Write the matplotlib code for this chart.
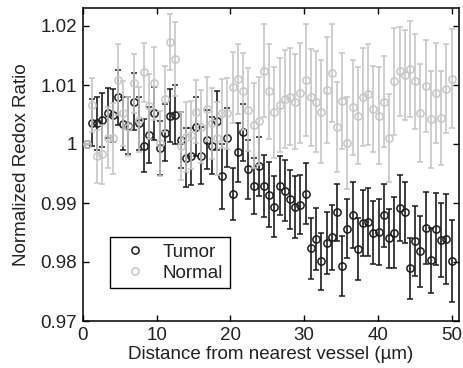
import matplotlib
matplotlib.use("Agg")
import matplotlib.pyplot as plt
from matplotlib.lines import Line2D

plt.rcParams['font.family'] = ['Liberation Sans', 'DejaVu Sans']

distance = [0.50, 1.21, 1.91, 2.62, 3.33, 4.04, 4.74, 5.45, 6.16, 6.86,
            7.57, 8.28, 8.99, 9.69, 10.40, 11.11, 11.81, 12.52, 13.23, 13.94,
            14.64, 15.35, 16.06, 16.76, 17.47, 18.18, 18.89, 19.59, 20.30, 21.01,
            21.71, 22.42, 23.13, 23.84, 24.54, 25.25, 25.96, 26.66, 27.37, 28.08,
            28.79, 29.49, 30.20, 30.91, 31.61, 32.32, 33.03, 33.74, 34.44, 35.15,
            35.86, 36.56, 37.27, 37.98, 38.69, 39.39, 40.10, 40.81, 41.51, 42.22,
            42.93, 43.64, 44.34, 45.05, 45.76, 46.46, 47.17, 47.88, 48.59, 49.29,
            50.00]

tumor = [1.0000, 1.0036, 1.0035, 1.0041, 1.0053, 1.0049, 1.0079, 1.0034, 1.0031, 1.0072,
         1.0035, 0.9997, 1.0015, 1.0052, 0.9993, 1.0019, 1.0048, 1.0050, 1.0007, 0.9977,
         0.9979, 1.0029, 0.9980, 1.0007, 0.9997, 1.0039, 0.9945, 1.0011, 0.9916, 0.9986,
         1.0020, 0.9957, 0.9929, 0.9962, 0.9929, 0.9914, 0.9894, 0.9929, 0.9921, 0.9906,
         0.9893, 0.9897, 0.9916, 0.9823, 0.9839, 0.9801, 0.9832, 0.9842, 0.9884, 0.9793,
         0.9856, 0.9879, 0.9822, 0.9866, 0.9868, 0.9850, 0.9851, 0.9879, 0.9840, 0.9850,
         0.9891, 0.9884, 0.9789, 0.9836, 0.9818, 0.9857, 0.9803, 0.9856, 0.9837, 0.9839,
         0.9802]

tumor_err = [0.0, 0.0040, 0.0045, 0.0046, 0.0042, 0.0045, 0.0047, 0.0045, 0.0048, 0.0049,
             0.0045, 0.0045, 0.0048, 0.0045, 0.0046, 0.0048, 0.0045, 0.0050, 0.0048, 0.0050,
             0.0048, 0.0050, 0.0048, 0.0050, 0.0048, 0.0050, 0.0055, 0.0050, 0.0044, 0.0050,
             0.0048, 0.0050, 0.0048, 0.0050, 0.0052, 0.0055, 0.0052, 0.0050, 0.0052, 0.0050,
             0.0052, 0.0050, 0.0052, 0.0051, 0.0052, 0.0048, 0.0052, 0.0055, 0.0049, 0.0051,
             0.0050, 0.0056, 0.0053, 0.0056, 0.0058, 0.0053, 0.0056, 0.0054, 0.0050, 0.0060,
             0.0056, 0.0052, 0.0051, 0.0059, 0.0060, 0.0061, 0.0055, 0.0061, 0.0063, 0.0077,
             0.0070]

normal = [1.0000, 1.0066, 0.9979, 0.9983, 1.0011, 1.0010, 1.0109, 1.0052, 1.0029, 1.0103,
          1.0041, 1.0122, 1.0064, 1.0103, 1.0001, 1.0076, 1.0173, 1.0144, 0.9997, 1.0012,
          1.0015, 1.0055, 1.0029, 1.0059, 1.0035, 1.0010, 1.0052, 1.0052, 1.0096, 1.0110,
          1.0089, 1.0058, 1.0032, 1.0039, 1.0124, 1.0089, 1.0054, 1.0066, 1.0076, 1.0080,
          1.0072, 1.0086, 1.0108, 1.0079, 1.0072, 1.0055, 1.0092, 1.0120, 1.0029, 1.0073,
          1.0002, 1.0062, 1.0048, 1.0080, 1.0084, 1.0059, 1.0048, 1.0072, 1.0010, 1.0106,
          1.0123, 1.0117, 1.0127, 1.0106, 1.0052, 1.0098, 1.0042, 1.0086, 1.0044, 1.0094,
          1.0111]

normal_err = [0.0, 0.0046, 0.0045, 0.0050, 0.0052, 0.0060, 0.0060, 0.0055, 0.0050, 0.0050,
              0.0055, 0.0050, 0.0055, 0.0062, 0.0055, 0.0056, 0.0048, 0.0062, 0.0058, 0.0060,
              0.0058, 0.0054, 0.0062, 0.0054, 0.0060, 0.0062, 0.0058, 0.0060, 0.0060, 0.0059,
              0.0065, 0.0070, 0.0072, 0.0075, 0.0079, 0.0080, 0.0077, 0.0080, 0.0083, 0.0082,
              0.0080, 0.0085, 0.0095, 0.0082, 0.0085, 0.0088, 0.0090, 0.0083, 0.0076, 0.0081,
              0.0078, 0.0080, 0.0082, 0.0083, 0.0085, 0.0073, 0.0082, 0.0077, 0.0075, 0.0090,
              0.0076, 0.0077, 0.0082, 0.0080, 0.0083, 0.0078, 0.0082, 0.0085, 0.0080, 0.0076,
              0.0084]

series_labels = ['Tumor', 'Normal']
x_ticks = [0, 10, 20, 30, 40, 50]
y_ticks = [0.97, 0.98, 0.99, 1.00, 1.01, 1.02]
y_ticklabels = ['0.97', '0.98', '0.99', '1', '1.01', '1.02']

TUMOR_C = '#1c1c1c'
NORMAL_C = '#c6c6c6'
TEXT_C = '#222222'
FS = 13.5

fig = plt.figure(figsize=(4.64, 3.68), dpi=100)
ax = fig.add_axes([83/464, 47/368, 376/464, 312.7/368])

common = dict(fmt='o', markersize=5.2, markerfacecolor='none', markeredgewidth=1.1,
              elinewidth=1.2, capsize=2.5, capthick=1.2)
ax.errorbar(distance, tumor, yerr=tumor_err, color=TUMOR_C, ecolor=TUMOR_C, zorder=2, **common)
ax.errorbar(distance, normal, yerr=normal_err, color=NORMAL_C, ecolor=NORMAL_C, zorder=3, **common)

ax.set_xlim(0, 51)
ax.set_ylim(0.97, 1.023)
ax.set_xticks(x_ticks)
ax.set_yticks(y_ticks)
ax.set_yticklabels(y_ticklabels)
ax.tick_params(direction='in', length=4, width=1, top=True, right=True,
               labelsize=FS, colors='black', labelcolor=TEXT_C)
ax.tick_params(axis='x', pad=4)
ax.tick_params(axis='y', pad=4.5)
for s in ax.spines.values():
    s.set_linewidth(1.1)
    s.set_color('black')

ax.set_xlabel('Distance from nearest vessel (\u00b5m)', fontsize=FS, color=TEXT_C, labelpad=2)
ax.set_ylabel('Normalized Redox Ratio', fontsize=FS, color=TEXT_C, labelpad=7)

handles = [Line2D([], [], linestyle='none', marker='o', markersize=5.2, markerfacecolor='none',
                  markeredgewidth=1.1, color=TUMOR_C),
           Line2D([], [], linestyle='none', marker='o', markersize=5.2, markerfacecolor='none',
                  markeredgewidth=1.1, color=NORMAL_C)]
leg = ax.legend(handles, series_labels, loc='lower left', bbox_to_anchor=(0.072, 0.105),
                fontsize=FS, frameon=True, fancybox=False, framealpha=1, edgecolor='black',
                handlelength=2.0, handletextpad=0.45, borderpad=0.35, labelspacing=0.2,
                borderaxespad=0)
leg.get_frame().set_linewidth(1.0)
for t in leg.get_texts():
    t.set_color(TEXT_C)

fig.savefig('out.png', dpi=100)
